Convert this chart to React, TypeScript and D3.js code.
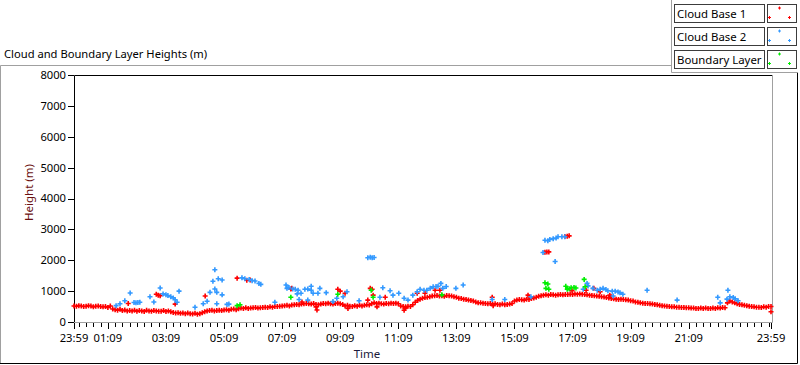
import React from 'react';
import * as d3 from 'd3';

const start = new Date(2021, 5, 1, 23, 59);
const spanMinutes = 1440;

// Cloud Base 1: one reading every 5 minutes from 23:59 (one row per hour)
const cloudBase1Regular = [
  520, 510, 530, 520, 500, 510, 530, 520, 490, 510, 520, 500,
  490, 500, 470, 520, 420, 400, 380, 410, 370, 390, 360, 370,
  360, 380, 350, 370, 360, 340, 380, 360, 350, 370, 360, 350,
  350, 370, 340, 360, 330, 310, 290, 300, 280, 290, 270, 290,
  270, 260, 280, 250, 270, 300, 330, 360, 370, 380, 360, 370,
  380, 370, 390, 400, 380, 410, 420, 400, 430, 450, 440, 460,
  440, 450, 460, 470, 450, 460, 470, 480, 470, 490, 480, 500,
  500, 510, 520, 530, 540, 520, 550, 560, 570, 560, 580, 590,
  600, 590, 580, 600, 570, 560, 580, 600, 590, 610, 590, 580,
  600, 610, 590, 570, 520, 540, 510, 500, 530, 510, 540, 520,
  540, 560, 550, 590, 620, 600, 610, 590, 580, 600, 590, 610,
  600, 610, 590, 520, 500, 490, 510, 500, 560, 640, 700, 740,
  770, 790, 800, 820, 840, 850, 860, 840, 850, 830, 860, 850,
  840, 820, 800, 770, 760, 740, 730, 710, 700, 680, 650, 620,
  620, 610, 600, 590, 600, 580, 590, 570, 560, 580, 560, 570,
  580, 600, 680, 710, 730, 720, 710, 740, 730, 760, 780, 800,
  830, 850, 870, 880, 870, 890, 880, 870, 880, 890, 880, 890,
  890, 900, 890, 910, 900, 910, 900, 890, 880, 870, 860, 850,
  840, 830, 820, 810, 790, 780, 760, 750, 740, 730, 740, 730,
  720, 710, 690, 680, 650, 640, 620, 610, 600, 600, 590, 580,
  570, 560, 540, 530, 520, 510, 500, 490, 490, 480, 480, 470,
  470, 460, 460, 450, 450, 440, 440, 450, 440, 450, 440, 440,
  450, 440, 460, 450, 470, 460, 620, 680, 650, 620, 590, 570,
  560, 540, 530, 510, 500, 490, 480, 480, 470, 490, 480, 500,
  500,
];

// Cloud Base 1: stray readings [minutes after 23:59, height m]
const cloudBase1Stray: [number, number][] = [
  [112, 600], [170, 900], [174, 870], [178, 850], [209, 580], [271, 840],
  [337, 1420], [357, 1350], [364, 1360], [448, 1070], [450, 1090], [471, 650],
  [500, 490], [502, 390], [545, 1060], [550, 1000], [560, 930], [566, 440],
  [607, 710], [612, 1090], [616, 1060], [618, 870], [626, 490], [643, 800],
  [682, 380], [684, 440], [709, 930], [725, 930], [746, 1030], [756, 1030],
  [864, 800], [866, 530], [938, 870], [973, 2260], [977, 2270], [981, 2270],
  [1014, 2770], [1019, 2780], [1023, 2790], [1029, 1010], [1058, 1030],
  [1074, 1090], [1087, 980], [1107, 870], [1440, 330],
];

// Cloud Base 2 [minutes after 23:59, height m]
const cloudBase2: [number, number][] = [
  [87, 530], [95, 590], [105, 690], [116, 940], [124, 630], [128, 620],
  [132, 630], [136, 640], [157, 820], [165, 650], [178, 1100], [184, 910],
  [190, 880], [194, 860], [200, 820], [205, 780], [209, 720], [213, 640],
  [217, 1000], [250, 480], [267, 590], [275, 670], [281, 960], [287, 1320],
  [291, 1690], [291, 1070], [295, 960], [298, 1400], [306, 1360], [306, 880],
  [295, 590], [316, 570], [320, 580], [347, 1430], [353, 1400], [362, 1380],
  [368, 1340], [374, 1330], [382, 1250], [386, 1220], [415, 640], [438, 1200],
  [440, 1090], [444, 1120], [452, 1070], [457, 1060], [461, 910], [463, 1030],
  [465, 730], [469, 930], [477, 1060], [483, 710], [483, 1070], [490, 1160],
  [490, 1030], [494, 930], [504, 930], [508, 1090], [521, 950], [535, 660],
  [543, 770], [556, 820], [564, 980], [589, 690], [607, 2080], [612, 2100],
  [616, 2080], [620, 2090], [632, 800], [638, 1110], [653, 1010], [659, 870],
  [671, 930], [682, 770], [690, 710], [700, 870], [709, 980], [715, 1060],
  [723, 1030], [729, 1030], [736, 1090], [742, 1140], [748, 1150], [752, 1160],
  [758, 1250], [762, 1090], [769, 1150], [789, 1090], [804, 1200], [864, 730],
  [890, 730], [944, 820], [969, 2250], [973, 2650], [979, 2630], [983, 2670],
  [990, 2700], [994, 1960], [996, 2720], [1000, 2760], [1008, 2760],
  [1014, 2760], [1052, 1060], [1060, 1250], [1062, 1170], [1072, 1090],
  [1081, 1030], [1087, 1060], [1093, 1090], [1099, 1050], [1103, 1010],
  [1112, 1000], [1114, 840], [1118, 1000], [1124, 970], [1128, 950],
  [1134, 900], [1184, 1030], [1246, 710], [1330, 800], [1335, 620],
  [1349, 740], [1351, 1030], [1355, 820], [1362, 790], [1366, 750], [1372, 690],
];

// Boundary Layer [minutes after 23:59, height m]
const boundaryLayer: [number, number][] = [
  [337, 530], [343, 560], [448, 800], [545, 900], [614, 1030], [618, 800],
  [760, 880], [973, 1270], [975, 1090], [979, 1230], [981, 1060], [1016, 1160],
  [1019, 1060], [1023, 1080], [1027, 1110], [1033, 1120], [1037, 1100],
  [1054, 1380], [1056, 1140],
];

const yTicks = d3.range(0, 8001, 1000);
const majorMinutes = [0, ...d3.range(70, 1300, 120), spanMinutes];
const minorMinutes = d3.range(10, spanMinutes, 15);

const legendItems = [
  { label: 'Cloud Base 1', color: '#ff0000' },
  { label: 'Cloud Base 2', color: '#3399ff' },
  { label: 'Boundary Layer', color: '#00ee00' },
];

const font = '"Noto Sans", "Open Sans", sans-serif';

const plus = (cx: number, cy: number, r: number) =>
  `M${cx - r},${cy}H${cx + r}M${cx},${cy - r}V${cy + r}`;

export default function App() {
  const at = (m: number) => d3.timeMinute.offset(start, m);
  const x = d3.scaleTime().domain([start, at(spanMinutes)]).range([74, 771]);
  const y = d3.scaleLinear().domain([0, 8000]).range([322, 75]);
  const fmt = d3.timeFormat('%H:%M');

  const marks = (pts: [number, number][]) =>
    pts.map(([m, v]) => plus(x(at(m)), y(v), 2.5)).join('');

  const red: [number, number][] = [
    ...cloudBase1Regular.map((v, i) => [i * 5, v] as [number, number]),
    ...cloudBase1Stray,
  ];

  return (
    <svg
      width={800}
      height={365}
      style={{ position: 'absolute', left: 0, top: 0, background: '#fff' }}
      fontFamily={font}
    >
      {/* outer panel */}
      <path d="M0.5,363 V65.5 H671.5" fill="none" stroke="#a0a0a0" />
      <path d="M0,363.5 H797.5 V72" fill="none" stroke="#000" />

      <text x={4} y={58} fontSize={11.2} fill="#000">
        Cloud and Boundary Layer Heights (m)
      </text>

      {/* legend */}
      <path d="M671.5,0 V72.5 H798" fill="none" stroke="#a0a0a0" />
      {legendItems.map((d, i) => {
        const top = 4.5 + i * 23;
        return (
          <g key={d.label}>
            <rect x={674.5} y={top} width={90} height={18} fill="#fff" stroke="#3c3c3c" />
            <text x={677} y={top + 13.5} fontSize={11.4} fill="#000">
              {d.label}
            </text>
            <rect x={767.5} y={top} width={29} height={18} fill="#fff" stroke="#3c3c3c" />
            <path
              d={plus(779.5, top + 3.5, 1.5) + plus(769.5, top + 13, 1.5) + plus(789.5, top + 13, 1.5)}
              stroke={d.color}
              strokeWidth={1}
            />
          </g>
        );
      })}

      {/* plot frame */}
      <rect x={74} y={75} width={698} height={247} fill="#fff" />
      <path d="M74.5,322 V75.5 H772" fill="none" stroke="#000" />
      <path d="M74,322.5 H772.5 V75" fill="none" stroke="#a0a0a0" />

      {/* y axis */}
      {yTicks.map((t) => (
        <g key={t}>
          <line x1={68} x2={74} y1={Math.round(y(t)) + 0.5} y2={Math.round(y(t)) + 0.5} stroke="#000" />
          <text x={66} y={y(t)} dy="0.35em" textAnchor="end" fontSize={11.2} fill="#000">
            {t}
          </text>
        </g>
      ))}
      <text
        transform={`translate(33,${(y(0) + y(8000)) / 2 - 6}) rotate(-90)`}
        textAnchor="middle"
        fontSize={11.5}
        fill="#6b1010"
      >
        Height (m)
      </text>

      {/* x axis */}
      {minorMinutes.map((m) => (
        <line key={m} x1={Math.round(x(at(m))) + 0.5} x2={Math.round(x(at(m))) + 0.5} y1={323} y2={327} stroke="#000" />
      ))}
      {majorMinutes.map((m) => (
        <g key={m}>
          <line x1={Math.round(x(at(m))) + 0.5} x2={Math.round(x(at(m))) + 0.5} y1={323} y2={329} stroke="#000" />
          <text x={x(at(m))} y={342} textAnchor="middle" fontSize={11.2} fill="#000">
            {fmt(at(m))}
          </text>
        </g>
      ))}
      <text x={367} y={358} textAnchor="middle" fontSize={11.5} fill="#1a1a3a">
        Time
      </text>

      {/* data */}
      <g fill="none" strokeWidth={1.6}>
        <path d={marks(red)} stroke="#ff0000" />
        <path d={marks(cloudBase2)} stroke="#3399ff" />
        <path d={marks(boundaryLayer)} stroke="#00ee00" />
      </g>
    </svg>
  );
}
